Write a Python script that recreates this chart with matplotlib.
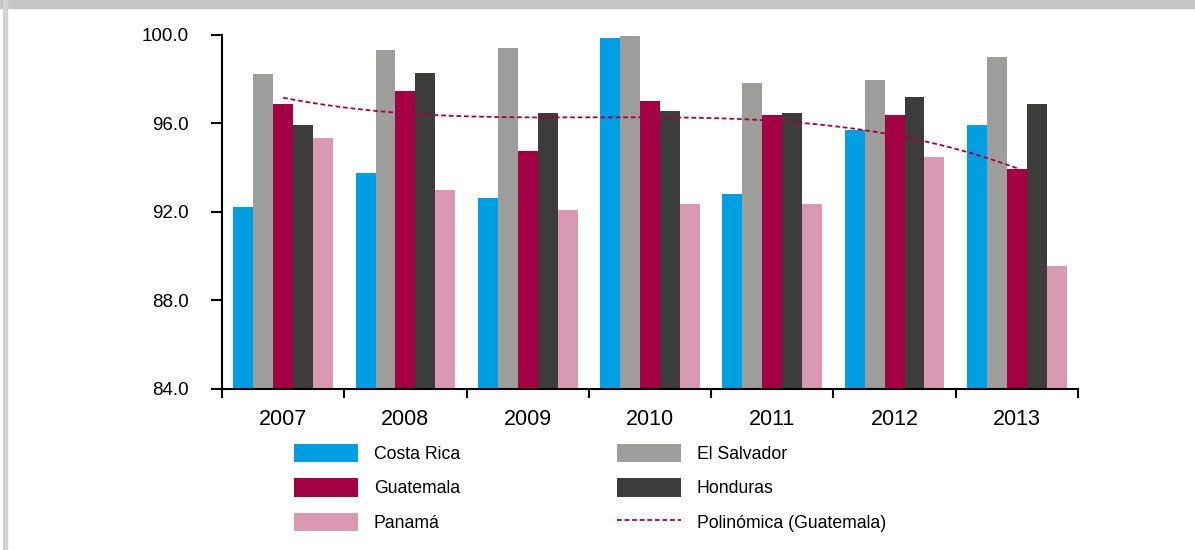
import numpy as np
import matplotlib.pyplot as plt
from matplotlib.patches import Rectangle

plt.rcParams['font.family'] = ['Liberation Sans', 'DejaVu Sans']

# Datos (porcentaje)
anios = ['2007', '2008', '2009', '2010', '2011', '2012', '2013']
costa_rica = [92.23, 93.77, 92.64, 99.86, 92.82, 95.68, 95.95]
el_salvador = [98.23, 99.32, 99.40, 99.95, 97.82, 97.95, 99.00]
guatemala = [96.86, 97.45, 94.77, 97.00, 96.36, 96.36, 93.95]
honduras = [95.95, 98.27, 96.45, 96.55, 96.45, 97.18, 96.90]
panama = [95.32, 93.00, 92.09, 92.36, 92.36, 94.50, 89.55]
tendencia_guatemala = [97.17, 96.44, 96.27, 96.33, 96.06, 95.50, 93.97]

paises = ['Costa Rica', 'El Salvador', 'Guatemala', 'Honduras', 'Panamá']
series = [costa_rica, el_salvador, guatemala, honduras, panama]
colores = ['#009FE3', '#9D9D9C', '#A50044', '#3C3C3B', '#D999B2']

W, H = 1195, 550
fig = plt.figure(figsize=(W / 100, H / 100), dpi=100)

# marco gris del recuadro
fig.patches.append(Rectangle((0, 1 - 8 / H), 1, 8 / H, transform=fig.transFigure,
                             color='#C6C6C6', zorder=0))
fig.patches.append(Rectangle((3 / W, 0), 4 / W, 1, transform=fig.transFigure,
                             color='#D2D2D2', zorder=0))

ax = fig.add_axes([222 / W, 1 - 388.7 / H, (1078 - 222) / W, (388.7 - 35) / H])

x = np.arange(len(anios))
ancho = 0.163
barras = []
for i, (serie, color) in enumerate(zip(series, colores)):
    b = ax.bar(x + (i - 2) * ancho, serie, width=ancho, color=color,
               label=paises[i], zorder=2)
    barras.append(b)

# tendencia polinómica de orden 3
coef = np.polyfit(x, tendencia_guatemala, 3)
xs = np.linspace(x[0], x[-1], 300)
linea, = ax.plot(xs, np.polyval(coef, xs), color='#A50044', lw=1.3,
                 dashes=(2.6, 1.6), zorder=3)

ax.set_xlim(-0.5, len(anios) - 0.5)
ax.set_ylim(84, 100)

for lado in ['top', 'right']:
    ax.spines[lado].set_visible(False)
ax.spines['left'].set_linewidth(1.5)
ax.spines['bottom'].set_linewidth(1.5)

ax.set_yticks([84, 88, 92, 96, 100])
ax.set_yticklabels([f'{v:.1f}' for v in [84, 88, 92, 96, 100]])
ax.tick_params(axis='y', length=8, width=1.5, pad=16, labelsize=13.5)

ax.set_xticks(x)
ax.set_xticklabels(anios)
ax.set_xticks(np.arange(-0.5, len(anios), 1), minor=True)
ax.tick_params(axis='x', which='major', length=0, pad=14.6, labelsize=15.5)
ax.tick_params(axis='x', which='minor', length=6.5, width=1.5)

# leyenda en dos columnas
opciones = dict(loc='upper left', frameon=False, fontsize=12.7, handlelength=3.63,
                handleheight=1.22, handletextpad=0.9, labelspacing=0.86,
                borderpad=0, borderaxespad=0)
fig.legend([barras[0], barras[2], barras[4]], ['Costa Rica', 'Guatemala', 'Panamá'],
           bbox_to_anchor=(294 / W, 1 - 444 / H), **opciones)
fig.legend([barras[1], barras[3], linea], ['El Salvador', 'Honduras', 'Polinómica (Guatemala)'],
           bbox_to_anchor=(617 / W, 1 - 444 / H), **opciones)

fig.savefig('out.png', dpi=100)
